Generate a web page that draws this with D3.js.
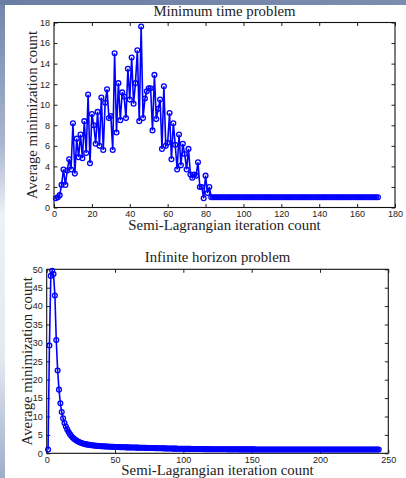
<!DOCTYPE html>
<html>
<head>
<meta charset="utf-8">
<title>Average minimization count</title>
<script src="https://d3js.org/d3.v7.min.js"></script>
<style>
  body { margin: 0; background: #fff; }
  .tick text { font-family: "Liberation Sans", Arial, sans-serif; font-size: 9px; fill: #222; }
  .lbl { font-family: "Liberation Serif", "Times New Roman", serif; font-size: 14.8px; fill: #222; }
</style>
</head>
<body>
<script>

// minimum time problem, iteration 1..171
var minTimeAvg = [
  0.9, 1.0, 1.2, 2.2, 3.7, 2.2, 3.6, 4.7, 3.7, 8.2,
  3.3, 6.7, 4.9, 7.1, 4.8, 8.4, 5.3, 11.0, 4.3, 9.1,
  8.0, 6.2, 9.3, 6.0, 10.7, 5.6, 10.2, 11.5, 8.7, 8.9,
  5.6, 15.0, 7.3, 12.1, 8.5, 11.2, 10.8, 8.7, 13.5, 10.5,
  14.6, 10.1, 12.1, 15.3, 8.4, 17.6, 8.7, 10.6, 11.3, 11.6,
  11.6, 7.5, 12.9, 8.6, 9.6, 10.5, 5.7, 11.8, 6.0, 6.3,
  9.2, 4.7, 8.2, 6.1, 3.7, 7.1, 4.1, 6.2, 5.2, 3.7,
  5.7, 3.2, 2.9, 3.2, 3.1, 4.4, 2.0, 2.0, 0.9, 3.1,
  1.4, 2.0, 1, 1, 1, 1, 1, 1, 1, 1,
  1, 1, 1, 1, 1, 1, 1, 1, 1, 1,
  1, 1, 1, 1, 1, 1, 1, 1, 1, 1,
  1, 1, 1, 1, 1, 1, 1, 1, 1, 1,
  1, 1, 1, 1, 1, 1, 1, 1, 1, 1,
  1, 1, 1, 1, 1, 1, 1, 1, 1, 1,
  1, 1, 1, 1, 1, 1, 1, 1, 1, 1,
  1, 1, 1, 1, 1, 1, 1, 1, 1, 1,
  1, 1, 1, 1, 1, 1, 1, 1, 1, 1,
  1
];

// infinite horizon problem, iteration 1..243
var infHorizonAvg = [
  1.0, 29.3, 48.2, 49.6, 48.7, 42.9, 30.8, 22.5, 17.3, 13.6,
  11.2, 9.5, 8.2, 7.3, 6.5, 5.8, 5.2, 4.7, 4.3, 3.95,
  3.65, 3.4, 3.2, 3.0, 2.85, 2.72, 2.6, 2.5, 2.42, 2.35,
  2.29, 2.23, 2.18, 2.13, 2.09, 2.05, 2.02, 1.99, 1.96, 1.93,
  1.91, 1.88, 1.86, 1.84, 1.82, 1.80, 1.78, 1.76, 1.74, 1.73,
  1.71, 1.70, 1.68, 1.67, 1.66, 1.64, 1.63, 1.62, 1.61, 1.60,
  1.59, 1.58, 1.57, 1.56, 1.55, 1.54, 1.53, 1.52, 1.51, 1.50,
  1.49, 1.48, 1.47, 1.46, 1.45, 1.44, 1.43, 1.42, 1.41, 1.40,
  1.39, 1.38, 1.37, 1.36, 1.35, 1.34, 1.33, 1.32, 1.31, 1.30,
  1.29, 1.28, 1.27, 1.27, 1.26, 1.25, 1.24, 1.23, 1.22, 1.21,
  1.21, 1.20, 1.20, 1.19, 1.19, 1.18, 1.18, 1.17, 1.17, 1.16,
  1.16, 1.15, 1.15, 1.14, 1.14, 1.13, 1.13, 1.13, 1.12, 1.12,
  1.12, 1.11, 1.11, 1.11, 1.10, 1.10, 1.10, 1.09, 1.09, 1.09,
  1.09, 1.08, 1.08, 1.08, 1.08, 1.07, 1.07, 1.07, 1.07, 1.07,
  1.06, 1.06, 1.06, 1.06, 1.06, 1.06, 1.06, 1.06, 1.06, 1.06,
  1.06, 1.06, 1.05, 1.05, 1.05, 1.05, 1.05, 1.05, 1.05, 1.05,
  1.05, 1.05, 1.05, 1.05, 1.05, 1.05, 1.05, 1.05, 1.05, 1.05,
  1.04, 1.04, 1.04, 1.04, 1.04, 1.04, 1.04, 1.04, 1.04, 1.04,
  1.04, 1.04, 1.04, 1.04, 1.04, 1.04, 1.04, 1.04, 1.04, 1.04,
  1.03, 1.03, 1.03, 1.03, 1.03, 1.03, 1.03, 1.03, 1.03, 1.03,
  1.03, 1.03, 1.03, 1.03, 1.03, 1.03, 1.03, 1.03, 1.03, 1.03,
  1.03, 1.03, 1.03, 1.03, 1.03, 1.02, 1.02, 1.02, 1.02, 1.02,
  1.02, 1.02, 1.02, 1.02, 1.02, 1.02, 1.02, 1.02, 1.02, 1.02,
  1.02, 1.02, 1.02, 1.02, 1.02, 1.02, 1.02, 1.02, 1.02, 1.02,
  1.02, 1.02, 1.02
];

var minTimeXTicks = [0, 20, 40, 60, 80, 100, 120, 140, 160, 180];
var minTimeYTicks = [0, 2, 4, 6, 8, 10, 12, 14, 16, 18];
var infXTicks = [0, 50, 100, 150, 200, 250];
var infYTicks = [0, 5, 10, 15, 20, 25, 30, 35, 40, 45, 50];

var titles = ["Minimum time problem", "Infinite horizon problem"];
var xLabel = "Semi-Lagrangian iteration count";
var yLabel = "Average minimization count";


var svg = d3.select("body").append("svg")
  .attr("width", 406).attr("height", 478);

// slide background: grey-blue band on top and a strip down the left side
var defs = svg.append("defs");
var gTop = defs.append("linearGradient").attr("id", "topband").attr("x1", 0).attr("x2", 1).attr("y1", 0).attr("y2", 0);
gTop.append("stop").attr("offset", 0).attr("stop-color", "#6a7ea3");
gTop.append("stop").attr("offset", 1).attr("stop-color", "#7d8db0");
var gLeft = defs.append("linearGradient").attr("id", "leftband").attr("x1", 0).attr("x2", 0).attr("y1", 0).attr("y2", 1);
gLeft.append("stop").attr("offset", 0).attr("stop-color", "#7084aa");
gLeft.append("stop").attr("offset", 0.3).attr("stop-color", "#a9b6cf");
gLeft.append("stop").attr("offset", 0.45).attr("stop-color", "#eef1f6");
gLeft.append("stop").attr("offset", 0.75).attr("stop-color", "#e4e9f1");
gLeft.append("stop").attr("offset", 1).attr("stop-color", "#9eadc9");

svg.append("rect").attr("width", 406).attr("height", 478).attr("fill", "#fff");
svg.append("rect").attr("x", 0).attr("y", 0).attr("width", 5).attr("height", 478).attr("fill", "url(#leftband)");
svg.append("rect").attr("x", 0).attr("y", 0).attr("width", 406).attr("height", 5).attr("fill", "url(#topband)");


drawPanel(minTimeAvg, [0, 180], [0, 18], minTimeXTicks, minTimeYTicks,
  {left: 54, right: 395, top: 22.5, bottom: 207.5}, titles[0],
  {title: 15.5, xlab: 230, ylab: 36.5});

drawPanel(infHorizonAvg, [0, 250], [0, 50], infXTicks, infYTicks,
  {left: 46.7, right: 388.3, top: 269.3, bottom: 453.3}, titles[1],
  {title: 261.5, xlab: 474.5, ylab: 31.5});


function drawPanel(values, xDom, yDom, xTicks, yTicks, box, title, pos) {
  var x = d3.scaleLinear().domain(xDom).range([box.left, box.right]);
  var y = d3.scaleLinear().domain(yDom).range([box.bottom, box.top]);
  var g = svg.append("g");
  var tl = -3.5;

  g.append("g").attr("transform", "translate(0," + box.bottom + ")")
    .call(d3.axisBottom(x).tickValues(xTicks).tickSize(tl).tickPadding(3.5));
  g.append("g").attr("transform", "translate(0," + box.top + ")")
    .call(d3.axisTop(x).tickValues(xTicks).tickSize(tl).tickFormat(""));
  g.append("g").attr("transform", "translate(" + box.left + ",0)")
    .call(d3.axisLeft(y).tickValues(yTicks).tickSize(tl).tickPadding(4));
  g.append("g").attr("transform", "translate(" + box.right + ",0)")
    .call(d3.axisRight(y).tickValues(yTicks).tickSize(tl).tickFormat(""));
  g.selectAll(".domain").remove();
  g.selectAll(".tick line").attr("stroke", "#222");

  g.append("rect")
    .attr("x", box.left).attr("y", box.top)
    .attr("width", box.right - box.left).attr("height", box.bottom - box.top)
    .attr("fill", "none").attr("stroke", "#111").attr("stroke-width", 1.1);

  var line = d3.line()
    .x(function(d, i) { return x(i + 1); })
    .y(function(d) { return y(d); });

  g.append("path").datum(values)
    .attr("d", line)
    .attr("fill", "none").attr("stroke", "#0000ff").attr("stroke-width", 1.6);

  g.selectAll("circle.pt").data(values).enter().append("circle")
    .attr("class", "pt")
    .attr("cx", function(d, i) { return x(i + 1); })
    .attr("cy", function(d) { return y(d); })
    .attr("r", 2.4)
    .attr("fill", "none").attr("stroke", "#0000ff").attr("stroke-width", 1.3);

  var cx = (box.left + box.right) / 2;
  var cy = (box.top + box.bottom) / 2;
  g.append("text").attr("class", "lbl").attr("x", cx).attr("y", pos.title)
    .attr("text-anchor", "middle").text(title);
  g.append("text").attr("class", "lbl").attr("x", cx).attr("y", pos.xlab)
    .attr("text-anchor", "middle").text(xLabel);
  g.append("text").attr("class", "lbl")
    .attr("transform", "translate(" + pos.ylab + "," + cy + ") rotate(-90)")
    .attr("text-anchor", "middle").text(yLabel);
}

</script>
</body>
</html>
